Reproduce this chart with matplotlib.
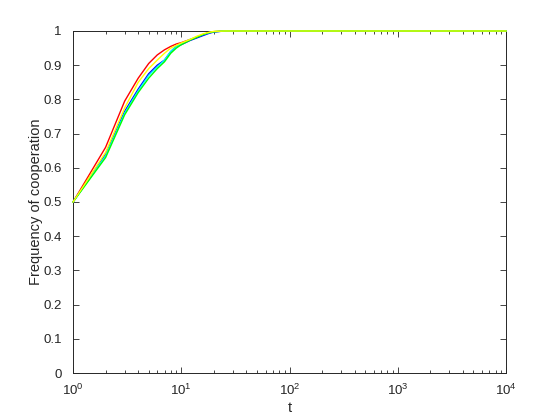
import matplotlib
matplotlib.use("Agg")
import matplotlib.pyplot as plt
from matplotlib.ticker import LogLocator

plt.rcParams['font.family'] = ['Liberation Sans', 'DejaVu Sans']
plt.rcParams['mathtext.fontset'] = 'custom'
plt.rcParams['mathtext.rm'] = 'Liberation Sans'

t = [1, 2, 3, 4, 5, 6, 7, 8, 9, 10, 12, 14, 16, 18, 20, 25, 30, 10000]
red = [0.5, 0.66, 0.795, 0.862, 0.905, 0.93, 0.945, 0.955, 0.962, 0.966, 0.975, 0.982, 0.99, 0.995, 0.998, 1, 1, 1]
blue = [0.5, 0.64, 0.765, 0.83, 0.875, 0.9, 0.915, 0.94, 0.955, 0.96, 0.972, 0.98, 0.987, 0.993, 0.997, 1, 1, 1]
cyan = [0.5, 0.635, 0.76, 0.825, 0.87, 0.895, 0.915, 0.94, 0.955, 0.962, 0.975, 0.983, 0.99, 0.995, 0.998, 1, 1, 1]
green = [0.5, 0.63, 0.755, 0.82, 0.862, 0.89, 0.91, 0.935, 0.95, 0.96, 0.973, 0.982, 0.99, 0.995, 0.998, 1, 1, 1]
yellow = [0.5, 0.645, 0.775, 0.85, 0.89, 0.915, 0.935, 0.95, 0.958, 0.965, 0.975, 0.985, 0.992, 0.996, 0.999, 1, 1, 1]

series = [(red, '#ff0000'), (blue, '#0000ff'), (cyan, '#00ffff'), (green, '#00ff00'), (yellow, '#ffff00')]

fig = plt.figure(figsize=(5.6, 4.2), dpi=100)
ax = fig.add_axes([0.1304, 0.1119, 0.7732, 0.8143])
for y, c in series:
    ax.plot(t, y, color=c, lw=1.0, zorder=3, clip_on=False)

ax.set_xscale('log')
ax.set_xlim(1, 1e4)
ax.set_ylim(0, 1)
ax.set_yticks([0, 0.1, 0.2, 0.3, 0.4, 0.5, 0.6, 0.7, 0.8, 0.9, 1])
ax.set_yticklabels(['0', '0.1', '0.2', '0.3', '0.4', '0.5', '0.6', '0.7', '0.8', '0.9', '1'])
ax.xaxis.set_major_locator(LogLocator(base=10, numticks=10))
ax.xaxis.set_minor_locator(LogLocator(base=10, subs=range(2, 10), numticks=20))
ax.tick_params(which='both', direction='in', top=True, right=True, colors='#262626', labelsize=9.5, width=0.6)
ax.tick_params(axis='y', pad=8)
ax.tick_params(axis='x', pad=7)
ax.tick_params(which='major', length=4)
ax.tick_params(which='minor', length=2)
for s in ax.spines.values():
    s.set_color('#262626')
    s.set_linewidth(0.7)
ax.set_xlabel('t', fontsize=10.5, color='#262626', labelpad=2)
ax.set_ylabel('Frequency of cooperation', fontsize=10.5, color='#262626', labelpad=0)

fig.savefig('out.png', dpi=100, facecolor='white')
